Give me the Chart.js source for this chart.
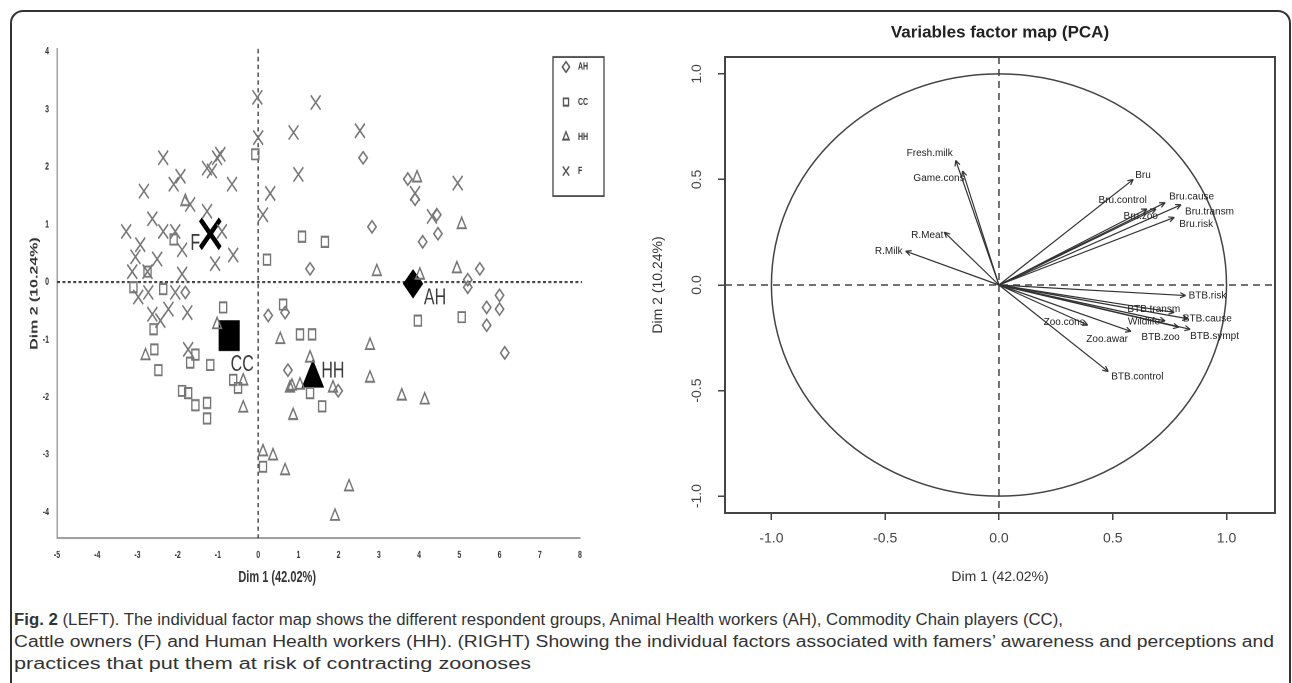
<!DOCTYPE html>
<html lang="en">
<head>
<meta charset="UTF-8">
<title>Fig. 2 - factor maps</title>
<script src="https://cdn.jsdelivr.net/npm/chart.js"></script>
<style>
  body { margin: 0; background: #fff; width: 1292px; height: 683px; overflow: hidden; position: relative;
         font-family: "Liberation Sans", Arial, sans-serif; }
  .frame { position: absolute; left: 10px; top: 10px; width: 1277px; height: 720px;
           border: 2px solid #333; border-radius: 13px; }
  /* the left map is drawn flat and stretched, as in the published figure */
  #leftWrap { position: absolute; left: 0; top: 0; width: 640px; height: 414px;
              transform: scaleY(1.4493); transform-origin: 0 0; }
  #rightWrap { position: absolute; left: 640px; top: 0; width: 652px; height: 600px; }
  .caption { position: absolute; left: 14px; top: 609px; color: #333; font-size: 16px; line-height: 22px;
             font-family: "Liberation Sans Narrow", "Liberation Sans", Arial, sans-serif; }
  .caption div { white-space: nowrap; transform-origin: 0 50%; width: max-content; }
</style>
</head>
<body>
<div class="frame"></div>
<div id="leftWrap"><canvas id="individus" width="640" height="414"></canvas></div>
<div id="rightWrap"><canvas id="variables" width="652" height="600"></canvas></div>
<div class="caption">
  <div><b>Fig. 2</b> (LEFT). The individual factor map shows the different respondent groups, Animal Health workers (AH), Commodity Chain players (CC),</div>
  <div>Cattle owners (F) and Human Health workers (HH). (RIGHT) Showing the individual factors associated with famers’ awareness and perceptions and</div>
  <div>practices that put them at risk of contracting zoonoses</div>
</div>

<script>
// ---- individuals (Dim 1, Dim 2) by respondent group ----
const ahX = [1.29, -1.81, 2.61, 3.72, 3.9, 4.44, 2.83, 4.47, 4.09, 5.51, 5.21, 5.21, 6.0, 5.68, 6.0, 5.68, 6.13, 0.25, 0.74, 1.99, 0.67];
const ahY = [0.23, -0.18, 2.16, 1.79, 1.44, 1.17, 0.96, 0.84, 0.7, 0.23, 0.04, -0.09, -0.23, -0.44, -0.47, -0.75, -1.23, -0.58, -1.53, -1.89, -0.53];

const ccX = [-0.07, 1.09, 1.66, 0.22, -2.1, -2.75, -3.1, -2.36, -0.87, -2.6, -2.58, -2.48, -1.56, -1.69, -1.19,
             -0.62, -0.5, -1.89, -1.74, -1.56, -1.27, -1.27, 0.12, 0.62, 1.04, 1.34, 1.59, 1.29, 3.97, 5.06];
const ccY = [2.22, 0.79, 0.7, 0.39, 0.74, 0.18, -0.09, -0.12, -0.44, -0.82, -1.17, -1.53, -1.26, -1.4, -1.44,
             -1.7, -1.84, -1.89, -1.93, -2.14, -2.1, -2.37, -3.21, -0.39, -0.91, -0.91, -2.16, -1.93, -0.67, -0.61];

const hhX = [-1.81, 3.95, 5.06, 2.95, 4.02, 4.94, -1.02, -2.8, -0.37, -0.37, 0.55, 0.12, 0.37,
             0.67, 0.87, 0.84, 1.29, 0.79, 1.04, 1.86, 2.78, 2.78, 3.57, 4.14, 2.26, 1.91];
const hhY = [1.4, 1.81, 1.0, 0.18, 0.12, 0.23, -0.74, -1.28, -1.72, -2.19, -1.0, -2.95, -3.02,
             -3.28, -2.32, -1.81, -1.32, -1.84, -1.79, -1.84, -1.1, -1.67, -1.98, -2.05, -3.56, -4.07];

const fX = [-0.02, 1.43, 0.0, 0.88, -2.36, 1.0, -2.84, -2.1, -1.93, -1.27, -1.15, -1.02, -0.94, -0.65, 0.3,
            -1.69, -1.27, 0.12, -2.63, -3.28, -2.36, -2.06, -0.9, -2.93, -1.89, -0.62, -3.05, -2.51, -1.07, -3.13,
            -2.75, -1.89, -2.98, -2.73, -2.63, -2.43, -2.23, -2.06, -1.76, -1.74, 2.53, 4.96, 3.9, 4.32];
const fY = [3.21, 3.12, 2.51, 2.6, 2.16, 1.87, 1.58, 1.7, 1.84, 1.98, 1.93, 2.16, 2.22, 1.7, 1.54,
            1.35, 1.23, 1.17, 1.1, 0.88, 0.88, 0.88, 0.88, 0.65, 0.56, 0.47, 0.44, 0.4, 0.32, 0.18,
            0.18, 0.14, -0.26, -0.18, -0.56, -0.67, -0.47, -0.18, -0.53, -1.17, 2.63, 1.72, 1.54, 1.14];

// group centres (AH, CC, HH, F)
const groupNames = ["AH", "CC", "HH", "F"];
const centreX = [3.85, -0.72, 1.36, -1.19];
const centreY = [-0.03, -0.93, -1.67, 0.84];

// ---- variables factor map ----
const varNames = ["Fresh.milk", "Game.cons", "R.Meat", "R.Milk", "Bru", "Bru.control", "Bru.zoo", "Bru.cause",
                  "Bru.transm", "Bru.risk", "BTB.risk", "BTB.transm", "Wildlife", "BTB.cause", "BTB.sympt",
                  "BTB.zoo", "Zoo.awar", "Zoo.cons", "BTB.control"];
const varDim1 = [-0.19, -0.16, -0.24, -0.41, 0.59, 0.65, 0.69, 0.73, 0.80, 0.77, 0.82, 0.77, 0.73, 0.83, 0.84,
                 0.79, 0.58, 0.39, 0.48];
const varDim2 = [0.59, 0.54, 0.25, 0.16, 0.50, 0.36, 0.36, 0.39, 0.38, 0.32, -0.05, -0.13, -0.17, -0.16, -0.21,
                 -0.20, -0.22, -0.19, -0.41];

const toPoints = (xs, ys) => xs.map((x, i) => ({ x: x, y: ys[i] }));

// ---------- left: individual factor map ----------
const greyMark = "#767676";
const markStyles = { AH: "rectRot", CC: "rect", HH: "triangle", F: "crossRot" };
const markRadius = { AH: 4.2, CC: 5, HH: 5, F: 7 };

function drawMark(ctx, style, x, y, r) {
    ctx.beginPath();
    if (style === "rectRot") {
        ctx.moveTo(x, y - r); ctx.lineTo(x + r, y); ctx.lineTo(x, y + r); ctx.lineTo(x - r, y); ctx.closePath();
    } else if (style === "rect") {
        const h = r * Math.SQRT1_2;
        ctx.rect(x - h, y - h, 2 * h, 2 * h);
    } else if (style === "triangle") {
        ctx.moveTo(x, y - r);
        ctx.lineTo(x + r * 0.866, y + r * 0.5);
        ctx.lineTo(x - r * 0.866, y + r * 0.5);
        ctx.closePath();
    } else {
        const d = r * Math.SQRT1_2;
        ctx.moveTo(x - d, y - d); ctx.lineTo(x + d, y + d);
        ctx.moveTo(x + d, y - d); ctx.lineTo(x - d, y + d);
    }
    ctx.stroke();
}

const narrowBold = "'Liberation Sans Narrow', 'Liberation Sans', Arial, sans-serif";

const leftDecor = {
    id: "leftDecor",
    beforeDatasetsDraw(chart) {
        const { ctx, chartArea: a, scales: { x, y } } = chart;
        const x0 = x.getPixelForValue(0), y0 = y.getPixelForValue(0);
        ctx.save();
        ctx.strokeStyle = "#333";
        ctx.lineWidth = 1.3;
        ctx.setLineDash([3, 2.4]);
        ctx.beginPath();
        ctx.moveTo(x0, a.top); ctx.lineTo(x0, a.bottom);
        ctx.moveTo(a.left, y0); ctx.lineTo(a.right + 2, y0);
        ctx.stroke();
        ctx.restore();
    },
    afterDraw(chart) {
        const { ctx, chartArea: a, scales: { x, y } } = chart;
        ctx.save();
        // axis title under the x axis, set left of centre as in the figure
        ctx.fillStyle = "#333";
        ctx.font = "bold 11px " + narrowBold;
        ctx.textAlign = "center";
        ctx.textBaseline = "middle";
        ctx.fillText("Dim 1 (42.02%)", a.left + (a.right - a.left) * 0.421, a.bottom + 27);
        // labels next to the group centres
        const off = { AH: [22, 10], CC: [13, 20], HH: [20, -5], F: [-15, 7] };
        ctx.fillStyle = "#3a3a3a";
        ctx.font = "16px 'Liberation Sans', Arial, sans-serif";
        groupNames.forEach((g, i) => {
            ctx.fillText(g, x.getPixelForValue(centreX[i]) + off[g][0], y.getPixelForValue(centreY[i]) + off[g][1]);
        });
        // legend box
        ctx.strokeStyle = "#444";
        ctx.lineWidth = 1.3;
        ctx.strokeRect(553, 39.3, 51, 96);
        ctx.font = "bold 7px " + narrowBold;
        ctx.textAlign = "left";
        [46.2, 70.4, 94.5, 118].forEach((ly, i) => {
            const g = groupNames[i];
            ctx.strokeStyle = "#555";
            ctx.lineWidth = 1.3;
            drawMark(ctx, markStyles[g], 566, ly, g === "F" ? 4.5 : 3.6);
            ctx.fillStyle = "#333";
            ctx.fillText(g, 578, ly);
        });
        ctx.restore();
    }
};

const groupSets = [[ahX, ahY], [ccX, ccY], [hhX, hhY], [fX, fY]].map(([xs, ys], i) => {
    const g = groupNames[i];
    return {
        label: g,
        data: toPoints(xs, ys),
        pointStyle: markStyles[g],
        pointRadius: markRadius[g],
        pointBorderWidth: 1.35,
        pointBorderColor: greyMark,
        pointBackgroundColor: "rgba(0,0,0,0)"
    };
});

groupSets.push({
    label: "centres",
    data: toPoints(centreX, centreY),
    pointStyle: ["rectRot", "rect", "triangle", "crossRot"],
    pointRadius: [9.5, 14.2, 12, 14],
    pointBorderWidth: [1, 1, 1, 4],
    pointBorderColor: "#000",
    pointBackgroundColor: "#000"
});

const tinyFont = { family: narrowBold, size: 7, weight: "bold" };
const dimFont = { family: narrowBold, size: 11, weight: "bold" };
const onlyIntegers = s => { s.ticks = s.ticks.filter(t => Number.isInteger(t.value)); };

new Chart(document.getElementById("individus"), {
    type: "scatter",
    data: { datasets: groupSets },
    options: {
        responsive: false,
        animation: false,
        devicePixelRatio: 2,
        layout: { padding: { left: 0, right: 60, top: 33.8, bottom: 7.7 } },
        plugins: { legend: { display: false }, tooltip: { enabled: false } },
        scales: {
            x: {
                type: "linear", min: -5, max: 8,
                ticks: { stepSize: 1, includeBounds: false, font: tinyFont, color: "#333", padding: 7.5, maxRotation: 0 },
                grid: { display: false, drawTicks: false },
                border: { display: true, color: "#a0a0a0", width: 1.5 },
                title: { display: false },
                afterBuildTicks: onlyIntegers,
                afterFit: s => { s.height = 35; }
            },
            y: {
                type: "linear", min: -4.45, max: 4.05,
                ticks: { stepSize: 1, includeBounds: false, font: tinyFont, color: "#333", padding: 8 },
                grid: { display: false, drawTicks: false },
                border: { display: true, color: "#a0a0a0", width: 1.5 },
                title: { display: true, text: "Dim 2 (10.24%)", font: dimFont, color: "#333", padding: { top: 28, bottom: 0 } },
                afterBuildTicks: onlyIntegers,
                afterFit: s => { s.width = 57; }
            }
        }
    },
    plugins: [leftDecor]
});

// ---------- right: variables factor map ----------
// label anchor beside each arrow tip: [text align, dx, dy]
const varLabelPlace = {
    "Fresh.milk": ["right", -3, -7], "Game.cons": ["right", 2, 7], "R.Meat": ["right", -1, 3],
    "R.Milk": ["right", -3, 0], "Bru": ["left", 2, -4], "Bru.control": ["right", 0, -9],
    "Bru.zoo": ["right", 2, 7], "Bru.cause": ["left", 4, -6], "Bru.transm": ["left", 4, 7],
    "Bru.risk": ["left", 5, 7], "BTB.risk": ["left", 3, 0], "BTB.transm": ["right", 6, -3],
    "Wildlife": ["right", -5, 1], "BTB.cause": ["left", -5, 0], "BTB.sympt": ["left", 0, 7],
    "BTB.zoo": ["right", 1, 10], "Zoo.awar": ["right", -3, 8], "Zoo.cons": ["right", -3, -3],
    "BTB.control": ["left", 3, 5]
};

const rightDecor = {
    id: "rightDecor",
    beforeDatasetsDraw(chart) {
        const { ctx, chartArea: a, scales: { x, y } } = chart;
        const x0 = x.getPixelForValue(0), y0 = y.getPixelForValue(0);
        ctx.save();
        ctx.strokeStyle = "#444";
        ctx.lineWidth = 1.5;
        ctx.setLineDash([7, 5]);
        ctx.beginPath();
        ctx.moveTo(x0, a.top); ctx.lineTo(x0, a.bottom);
        ctx.moveTo(a.left, y0); ctx.lineTo(a.right, y0);
        ctx.stroke();
        ctx.setLineDash([]);
        // correlation circle of radius 1
        ctx.beginPath();
        ctx.ellipse(x0, y0, x.getPixelForValue(1) - x0, y0 - y.getPixelForValue(1), 0, 0, Math.PI * 2);
        ctx.stroke();
        ctx.restore();
    },
    afterDatasetsDraw(chart) {
        const { ctx, chartArea: a, scales: { x, y } } = chart;
        const x0 = x.getPixelForValue(0), y0 = y.getPixelForValue(0);
        ctx.save();
        ctx.strokeStyle = "#333";
        ctx.fillStyle = "#222";
        ctx.lineWidth = 1.2;
        ctx.font = "10px 'Liberation Sans', Arial, sans-serif";
        ctx.textBaseline = "middle";
        varNames.forEach((n, i) => {
            const tx = x.getPixelForValue(varDim1[i]), ty = y.getPixelForValue(varDim2[i]);
            const ang = Math.atan2(ty - y0, tx - x0);
            ctx.beginPath();
            [0.45, -0.45].forEach(d => {
                ctx.moveTo(tx, ty);
                ctx.lineTo(tx - 6 * Math.cos(ang + d), ty - 6 * Math.sin(ang + d));
            });
            ctx.stroke();
            const p = varLabelPlace[n];
            ctx.textAlign = p[0];
            ctx.fillText(n, tx + p[1], ty + p[2]);
        });
        ctx.strokeStyle = "#444";
        ctx.lineWidth = 2;
        ctx.strokeRect(a.left, a.top, a.right - a.left, a.bottom - a.top);
        ctx.restore();
    }
};

const rTick = { family: "'Liberation Sans', Arial, sans-serif", size: 14 };
const rTitle = { family: "'Liberation Sans', Arial, sans-serif", size: 14 };
const oneDecimal = v => v.toFixed(1);

new Chart(document.getElementById("variables"), {
    type: "scatter",
    data: {
        datasets: varNames.map((n, i) => ({
            label: n,
            data: [{ x: 0, y: 0 }, { x: varDim1[i], y: varDim2[i] }],
            showLine: true,
            borderColor: "#333",
            borderWidth: 1.2,
            pointRadius: 0
        }))
    },
    options: {
        responsive: false,
        animation: false,
        devicePixelRatio: 2,
        layout: { padding: { left: 0, right: 17, top: 0, bottom: 7 } },
        plugins: {
            legend: { display: false },
            tooltip: { enabled: false },
            title: {
                display: true, fullSize: false, text: "Variables factor map (PCA)", color: "#222",
                font: { family: "'Liberation Sans', Arial, sans-serif", size: 17, weight: "bold" },
                padding: { top: 22.8, bottom: 13.8 }
            }
        },
        scales: {
            x: {
                type: "linear", min: -1.204, max: 1.213,
                ticks: { stepSize: 0.5, includeBounds: false, font: rTick, color: "#444", padding: 10, maxRotation: 0, callback: oneDecimal },
                grid: { drawOnChartArea: false, drawTicks: true, tickLength: 7, color: "#444", lineWidth: 1.5 },
                border: { display: false },
                title: { display: true, text: "Dim 1 (42.02%)", font: rTitle, color: "#333", padding: { top: 0, bottom: 7.6 } },
                afterFit: s => { s.height = 80; }
            },
            y: {
                type: "linear", min: -1.08, max: 1.08,
                ticks: { stepSize: 0.5, includeBounds: false, font: rTick, color: "#444", padding: 9,
                         minRotation: 90, maxRotation: 90, crossAlign: "center", callback: oneDecimal },
                grid: { drawOnChartArea: false, drawTicks: true, tickLength: 7, color: "#444", lineWidth: 1.5 },
                border: { display: false },
                title: { display: true, text: "Dim 2 (10.24%)", font: rTitle, color: "#333", padding: { top: 9.6, bottom: 0 } },
                afterFit: s => { s.width = 85; }
            }
        }
    },
    plugins: [rightDecor]
});

// caption lines fitted to the widths they have in the figure
const capWidths = [1049, 1260, 517];
document.querySelectorAll(".caption div").forEach((l, i) => {
    l.style.transform = "scaleX(" + (capWidths[i] / l.getBoundingClientRect().width) + ")";
});
</script>
</body>
</html>
